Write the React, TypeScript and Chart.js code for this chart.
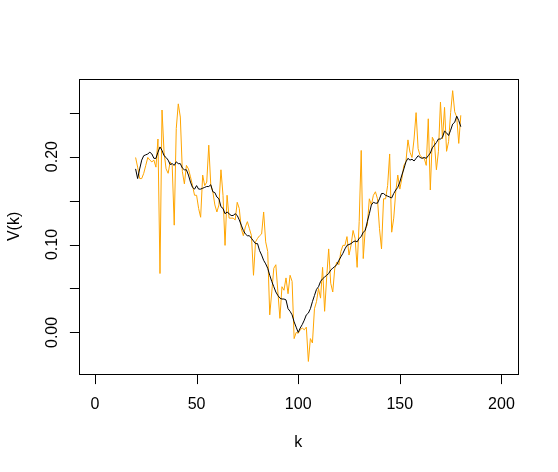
import React, { useEffect, useRef } from "react";
import { Chart, registerables } from "chart.js";

Chart.register(...registerables);

const K_START = 20;

const ORANGE_V = [
  0.199, 0.188, 0.175, 0.175, 0.181, 0.19, 0.199, 0.196, 0.194, 0.196,
  0.188, 0.22, 0.067, 0.253, 0.205, 0.186, 0.181, 0.194, 0.19, 0.122,
  0.232, 0.26, 0.245, 0.183, 0.169, 0.19, 0.186, 0.177, 0.167, 0.156,
  0.156, 0.141, 0.131, 0.179, 0.167, 0.171, 0.213, 0.167, 0.16, 0.145,
  0.137, 0.145, 0.185, 0.156, 0.099, 0.156, 0.13, 0.13, 0.13, 0.128,
  0.148, 0.141, 0.118, 0.11, 0.12, 0.126, 0.118, 0.11, 0.065, 0.103,
  0.107, 0.11, 0.112, 0.137, 0.103, 0.092, 0.02, 0.046, 0.073, 0.077,
  0.046, 0.016, 0.052, 0.048, 0.062, 0.044, 0.065, 0.058, -0.007, 0.0,
  -0.001, 0.003, 0.005, 0.003, 0.006, -0.033, -0.007, -0.012, 0.027, 0.035,
  0.05, 0.039, 0.074, 0.024, 0.062, 0.095, 0.056, 0.046, 0.073, 0.08,
  0.077, 0.092, 0.099, 0.099, 0.109, 0.088, 0.099, 0.116, 0.107, 0.074,
  0.126, 0.207, 0.084, 0.118, 0.122, 0.152, 0.145, 0.156, 0.16, 0.152,
  0.118, 0.095, 0.152, 0.152, 0.167, 0.203, 0.114, 0.13, 0.16, 0.179,
  0.163, 0.175, 0.19, 0.194, 0.219, 0.205, 0.199, 0.22, 0.25, 0.209,
  0.201, 0.199, 0.198, 0.19, 0.243, 0.162, 0.222, 0.217, 0.185, 0.206,
  0.262, 0.22, 0.256, 0.206, 0.217, 0.25, 0.275, 0.251, 0.245, 0.215,
  0.247,
];

const BLACK_V = [
  0.186, 0.175, 0.186, 0.196, 0.201, 0.202, 0.203, 0.205, 0.203, 0.198,
  0.198, 0.205, 0.211, 0.207, 0.201, 0.199, 0.196, 0.191, 0.192, 0.19,
  0.194, 0.192, 0.192, 0.187, 0.185, 0.185, 0.179, 0.171, 0.165, 0.163,
  0.167, 0.163, 0.163, 0.164, 0.165, 0.166, 0.166, 0.168, 0.16, 0.159,
  0.154, 0.152, 0.143, 0.141, 0.135, 0.137, 0.135, 0.133, 0.133, 0.135,
  0.133, 0.128, 0.122, 0.116, 0.112, 0.11, 0.11, 0.107, 0.104, 0.101,
  0.101, 0.093, 0.088, 0.082, 0.078, 0.073, 0.065, 0.058, 0.052, 0.046,
  0.042, 0.039, 0.038, 0.038, 0.037, 0.027, 0.024, 0.02, 0.012, 0.006,
  0.0, 0.005, 0.009, 0.014, 0.02, 0.022, 0.027, 0.035, 0.042, 0.049,
  0.052, 0.058, 0.061, 0.063, 0.065, 0.067, 0.071, 0.073, 0.075, 0.077,
  0.082, 0.086, 0.09, 0.095, 0.099, 0.1, 0.101, 0.103, 0.104, 0.103,
  0.107, 0.109, 0.114, 0.116, 0.126, 0.135, 0.145, 0.148, 0.147, 0.147,
  0.152, 0.158, 0.158, 0.156, 0.155, 0.154, 0.153, 0.158, 0.162, 0.165,
  0.171, 0.179, 0.186, 0.194, 0.198, 0.196, 0.197, 0.195, 0.198, 0.201,
  0.199, 0.198, 0.199, 0.198, 0.201, 0.204, 0.21, 0.213, 0.216, 0.22,
  0.22, 0.222, 0.229, 0.227, 0.224, 0.23, 0.237, 0.239, 0.246, 0.241,
  0.234,
];

const K = ORANGE_V.map((_, i) => K_START + i);

const X_TICKS = [0, 50, 100, 150, 200];
const Y_TICKS = [0, 0.05, 0.1, 0.15, 0.2, 0.25];
const Y_LABELS = ["0.00", "", "0.10", "", "0.20", ""];
const X_LABEL = "k";
const Y_LABEL = "V(k)";

const FONT = "16px 'Liberation Sans', Arial, sans-serif";

const rAxes = {
  id: "rAxes",
  afterDraw(chart: any) {
    const ctx = chart.ctx as CanvasRenderingContext2D;
    const { left, right, top, bottom } = chart.chartArea;
    const xs = chart.scales.x;
    const ys = chart.scales.y;
    ctx.save();
    ctx.strokeStyle = "#000";
    ctx.lineWidth = 1;
    const L = Math.round(left) + 0.5;
    const R = Math.round(right) + 0.5;
    const T = Math.round(top) + 0.5;
    const B = Math.round(bottom) + 0.5;
    ctx.strokeRect(L, T, R - L, B - T);
    ctx.beginPath();
    X_TICKS.forEach((v) => {
      const px = Math.round(xs.getPixelForValue(v)) + 0.5;
      ctx.moveTo(px, B);
      ctx.lineTo(px, B + 9.6);
    });
    Y_TICKS.forEach((v) => {
      const py = Math.round(ys.getPixelForValue(v)) + 0.5;
      ctx.moveTo(L, py);
      ctx.lineTo(L - 9.6, py);
    });
    ctx.stroke();
    ctx.fillStyle = "#000";
    ctx.font = FONT;
    ctx.textAlign = "center";
    ctx.textBaseline = "alphabetic";
    X_TICKS.forEach((v) => {
      ctx.fillText(String(v), xs.getPixelForValue(v), 409);
    });
    ctx.fillText(X_LABEL, (left + right) / 2, 447);
    Y_TICKS.forEach((v, i) => {
      if (!Y_LABELS[i]) return;
      ctx.save();
      ctx.translate(56.7, ys.getPixelForValue(v));
      ctx.rotate(-Math.PI / 2);
      ctx.fillText(Y_LABELS[i], 0, 0);
      ctx.restore();
    });
    ctx.save();
    ctx.translate(18.5, (top + bottom) / 2);
    ctx.rotate(-Math.PI / 2);
    ctx.fillText(Y_LABEL, 0, 0);
    ctx.restore();
    ctx.restore();
  },
};

export default function App() {
  const ref = useRef<HTMLCanvasElement | null>(null);
  useEffect(() => {
    if (!ref.current) return;
    const chart = new Chart(ref.current, {
      type: "line",
      data: {
        labels: K,
        datasets: [
          {
            data: BLACK_V,
            borderColor: "#000000",
            borderWidth: 1,
            pointRadius: 0,
            tension: 0,
            fill: false,
          },
          {
            data: ORANGE_V,
            borderColor: "#FFA500",
            borderWidth: 1,
            pointRadius: 0,
            tension: 0,
            fill: false,
          },
        ],
      },
      options: {
        animation: false,
        responsive: false,
        devicePixelRatio: 1,
        layout: { padding: { left: 78.7, top: 78.7, right: 40.3, bottom: 97.9 } },
        scales: {
          x: { type: "linear", min: -8, max: 208, display: false },
          y: { type: "linear", min: -0.0474, max: 0.2886, display: false },
        },
        plugins: { legend: { display: false }, tooltip: { enabled: false } },
      },
      plugins: [rAxes],
    });
    return () => chart.destroy();
  }, []);
  return (
    <div style={{ position: "fixed", left: 0, top: 0, width: 558, height: 472, background: "#fff" }}>
      <canvas ref={ref} width={558} height={472} style={{ width: 558, height: 472, display: "block" }} />
    </div>
  );
}
